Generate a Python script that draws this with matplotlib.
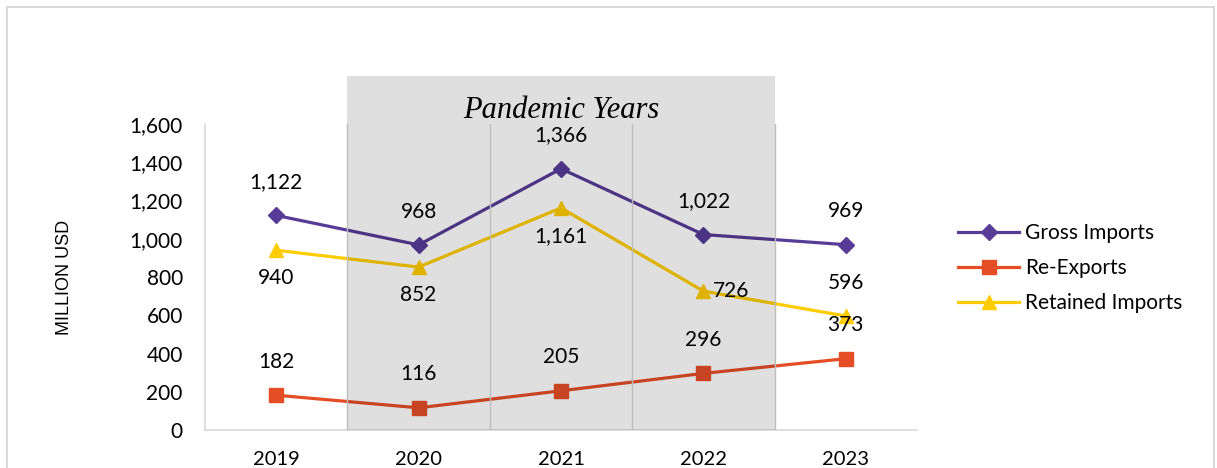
import matplotlib.pyplot as plt
from matplotlib.patches import Rectangle

# data
years = ['2019', '2020', '2021', '2022', '2023']
gross_imports = [1122, 968, 1366, 1022, 969]
re_exports = [182, 116, 205, 296, 373]
retained_imports = [940, 852, 1161, 726, 596]

plt.rcParams['font.family'] = ['Lato', 'DejaVu Sans']

fig = plt.figure(figsize=(12.17, 4.68), dpi=100)
ax = fig.add_axes([205 / 1217, 38 / 468, 712 / 1217, 306 / 468])

x = list(range(len(years)))
purple = '#573B96'
orange = '#E44D26'
gold = '#FFCC00'

ax.plot(x, gross_imports, color=purple, lw=2.3, marker='D', ms=8, label='Gross Imports', zorder=3)
ax.plot(x, re_exports, color=orange, lw=2.3, marker='s', ms=10, label='Re-Exports', zorder=3)
ax.plot(x, retained_imports, color=gold, lw=2.3, marker='^', ms=10, label='Retained Imports', zorder=3)

# pandemic shading, drawn over the lines like the original
ax.add_patch(Rectangle((0.5, 0), 3.0, 1851, facecolor='black', alpha=0.125,
                       edgecolor='none', clip_on=False, zorder=4))
for xv in [0.5, 1.5, 2.5, 3.5]:
    ax.plot([xv, xv], [0, 1600], color='#BDBDBD', lw=1, zorder=4.5)
ax.text(2, 1668, 'Pandemic Years', ha='center', va='center', fontsize=22,
        family='Liberation Serif', style='italic', zorder=6)

lab = dict(ha='center', va='center', fontsize=15, textcoords='offset points', zorder=6)
for i, v in enumerate(gross_imports):
    ax.annotate(f'{v:,}', (i, v), xytext=(0, 24), **lab)
for i, v in enumerate(re_exports):
    ax.annotate(f'{v:,}', (i, v), xytext=(0, 24), **lab)
for i, v in enumerate(retained_imports):
    if i == 3:
        ax.annotate(f'{v:,}', (i, v), xytext=(20, 0), **lab)
    elif i == 4:
        ax.annotate(f'{v:,}', (i, v), xytext=(0, 24), **lab)
    else:
        ax.annotate(f'{v:,}', (i, v), xytext=(0, -20), **lab)

ax.set_xlim(-0.5, 4.5)
ax.set_ylim(0, 1600)
ax.set_yticks(range(0, 1601, 200))
ax.set_yticklabels([f'{t:,}' for t in range(0, 1601, 200)])
ax.set_xticks(x)
ax.set_xticklabels(years)
ax.tick_params(axis='y', length=0, pad=16, labelsize=15)
ax.tick_params(axis='x', length=0, pad=15, labelsize=14.5)
for s in ['top', 'right']:
    ax.spines[s].set_visible(False)
for s in ['left', 'bottom']:
    ax.spines[s].set_color('#D9D9D9')
    ax.spines[s].set_linewidth(1.2)
ax.set_ylabel('MILLION USD', fontsize=13, family='Liberation Sans', labelpad=41)

fig.legend(loc='center left', bbox_to_anchor=(950 / 1217, 1 - 268 / 468), frameon=False,
           fontsize=15, handlelength=2.9, labelspacing=0.72, handletextpad=0.3,
           borderaxespad=0)

fig.patches.append(Rectangle((7 / 1217, -0.05), 1207 / 1217, 1.05 - 7 / 468,
                             transform=fig.transFigure, fill=False,
                             edgecolor='#D9D9D9', lw=1.5))

fig.savefig('out.png', dpi=100)
